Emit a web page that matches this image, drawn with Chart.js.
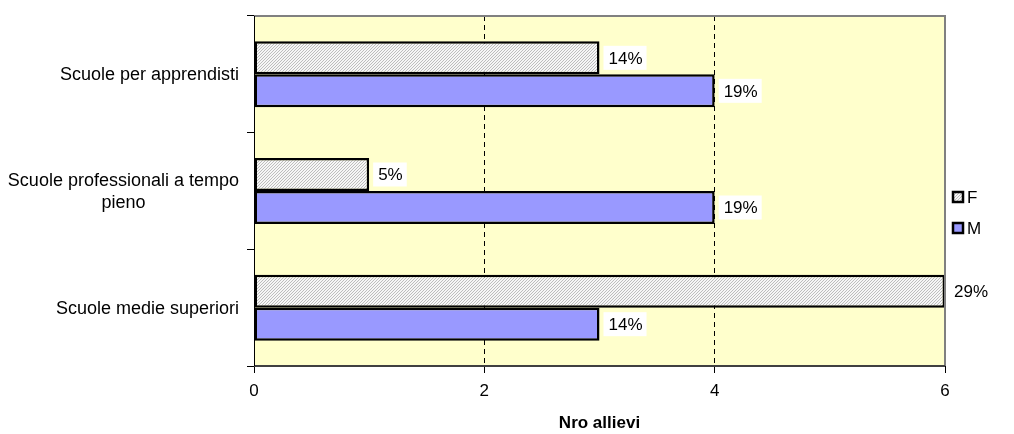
<!DOCTYPE html>
<html lang="it">
<head>
<meta charset="UTF-8">
<title>Nro allievi</title>
<script src="https://cdn.jsdelivr.net/npm/chart.js"></script>
<style>
  html, body { margin: 0; padding: 0; background: #fff; }
  #wrap { width: 1014px; height: 434px; }
</style>
</head>
<body>
<div id="wrap"><canvas id="chart" width="1014" height="434"></canvas></div>
<script>
const categories = [
  ['Scuole per apprendisti'],
  ['Scuole professionali a tempo', 'pieno'],
  ['Scuole medie superiori']
];
const seriesNames = ['F', 'M'];
const valuesF = [3, 1, 6];
const valuesM = [4, 4, 3];
const labelsF = ['14%', '5%', '29%'];
const labelsM = ['19%', '19%', '14%'];
const xTicks = [0, 2, 4, 6];

const FONT = '"Liberation Sans", Arial, sans-serif';

// trama tratteggiata per F
function makeHatch() {
  const c = document.createElement('canvas');
  c.width = 3; c.height = 3;
  const g = c.getContext('2d');
  g.fillStyle = '#f6f6f6';
  g.fillRect(0, 0, 3, 3);
  g.fillStyle = '#bdbdbd';
  for (let i = 0; i < 3; i++) g.fillRect(2 - i, i, 1, 1);
  return g.createPattern(c, 'repeat');
}
const ctx = document.getElementById('chart').getContext('2d');
const hatch = makeHatch();
const colorM = '#9999ff';

const bgPlugin = {
  id: 'bg',
  beforeDraw(chart) {
    const a = chart.chartArea, c = chart.ctx;
    c.save();
    c.fillStyle = '#ffffcc';
    c.fillRect(a.left, a.top, a.right - a.left, a.bottom - a.top);
    c.restore();
  },
  afterDatasetsDraw(chart) {
    const a = chart.chartArea, c = chart.ctx;
    c.save();
    // bordo area
    c.strokeStyle = '#808080';
    c.lineWidth = 2;
    c.beginPath();
    c.moveTo(a.left, a.top); c.lineTo(a.right, a.top); c.lineTo(a.right, a.bottom);
    c.stroke();
    c.strokeStyle = '#404040';
    c.beginPath();
    c.moveTo(a.left, a.bottom); c.lineTo(a.right, a.bottom);
    c.stroke();
    c.strokeStyle = '#000';
    c.lineWidth = 1;
    c.beginPath();
    c.moveTo(a.left + 0.5, a.top); c.lineTo(a.left + 0.5, a.bottom);
    c.stroke();

    // etichette valori
    c.font = '17px ' + FONT;
    c.textBaseline = 'middle';
    c.textAlign = 'left';
    const lbls = [labelsF, labelsM];
    chart.data.datasets.forEach((ds, di) => {
      chart.getDatasetMeta(di).data.forEach((bar, i) => {
        const t = lbls[di][i];
        const w = c.measureText(t).width;
        const x = bar.x + 4, y = bar.y;
        c.fillStyle = '#fff';
        c.fillRect(x, y - 12, w + 9, 24);
        c.fillStyle = '#000';
        c.fillText(t, x + 5, y + 1);
      });
    });

    // etichette categorie
    const ys = chart.scales.y;
    c.font = '18px ' + FONT;
    categories.forEach((lines, i) => {
      const yc = ys.getPixelForTick(i);
      const bw = Math.max(...lines.map(l => c.measureText(l).width));
      const cx = ys.right - 15 - bw / 2;
      const lh = 22;
      const y0 = yc - (lines.length - 1) * lh / 2 + 1;
      c.textAlign = 'center';
      lines.forEach((l, k) => c.fillText(l, cx, y0 + k * lh));
    });

    // legenda
    c.font = '17px ' + FONT;
    const lx = a.right + 8;
    const ly = [197, 228];
    const fills = [hatch, colorM];
    c.textAlign = 'left';
    seriesNames.forEach((n, k) => {
      c.fillStyle = fills[k];
      c.fillRect(lx, ly[k] - 5, 10, 10);
      c.strokeStyle = '#000';
      c.lineWidth = 2.5;
      c.strokeRect(lx, ly[k] - 5, 10, 10);
      c.fillStyle = '#000';
      c.fillText(n, lx + 14, ly[k] + 1);
    });
    c.restore();
  }
};

new Chart(ctx, {
  type: 'bar',
  data: {
    labels: categories,
    datasets: [
      { label: seriesNames[0], data: valuesF, backgroundColor: hatch, borderColor: '#000', borderWidth: 2.5, borderSkipped: false },
      { label: seriesNames[1], data: valuesM, backgroundColor: colorM, borderColor: '#000', borderWidth: 2.5, borderSkipped: false }
    ]
  },
  options: {
    indexAxis: 'y',
    responsive: false,
    animation: false,
    layout: { padding: { left: 0, right: 69, top: 16, bottom: 0 } },
    plugins: { legend: { display: false }, tooltip: { enabled: false } },
    datasets: { bar: { categoryPercentage: 0.566, barPercentage: 1 } },
    scales: {
      x: {
        min: 0, max: 6,
        afterFit(s) { s.height = 68; },
        afterBuildTicks(s) { s.ticks = xTicks.map(v => ({ value: v })); },
        border: { display: false, dash: [5, 4] },
        grid: {
          color: ctx => (ctx.tick && (ctx.tick.value === 2 || ctx.tick.value === 4)) ? '#000' : 'rgba(0,0,0,0)',
          tickColor: '#000',
          tickBorderDash: [],
          tickLength: 7,
          lineWidth: 1
        },
        ticks: { color: '#000', font: { size: 17, family: FONT }, padding: 8 },
        title: { display: true, text: 'Nro allievi', color: '#000', font: { size: 17, weight: 'bold', family: FONT }, padding: { top: 0, bottom: 0 } }
      },
      y: {
        afterFit(s) { s.width = 254; },
        border: { display: false },
        grid: { drawOnChartArea: false, tickColor: '#000', tickLength: 7, offset: true },
        ticks: { display: false }
      }
    }
  },
  plugins: [bgPlugin]
});
</script>
</body>
</html>
